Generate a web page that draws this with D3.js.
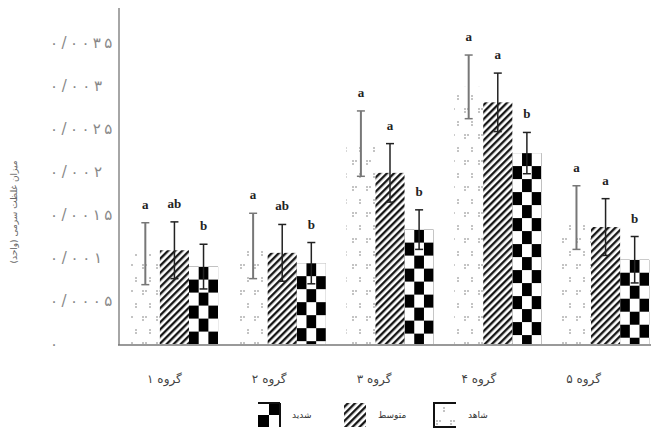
<!DOCTYPE html>
<html><head><meta charset="utf-8">
<script src="https://cdn.jsdelivr.net/npm/d3@7"></script>
<style>body{margin:0;background:#fff}svg{display:block}</style>
</head><body>
<svg id="c" width="651" height="431"></svg>
<script>
const groups = ["گروه ۱","گروه ۲","گروه ۳","گروه ۴","گروه ۵"];
const series = ["شاهد","متوسط","شدید"];
const means = [
  [0.00105, 0.00114, 0.00233, 0.00299, 0.00147],
  [0.00109, 0.00106, 0.00199, 0.00281, 0.00136],
  [0.00090, 0.00094, 0.00133, 0.00222, 0.00098]
];
const errs = [
  [0.00036, 0.00038, 0.00038, 0.00037, 0.00037],
  [0.00033, 0.00033, 0.00034, 0.00034, 0.00033],
  [0.00026, 0.00024, 0.00023, 0.00024, 0.00027]
];
const letters = [
  ["a","a","a","a","a"],
  ["ab","ab","a","a","a"],
  ["b","b","b","b","b"]
];
const yTicks = [0,0.0005,0.001,0.0015,0.002,0.0025,0.003,0.0035];
const yTickLabels = ["۰","۰/۰۰۰۵","۰/۰۰۱","۰/۰۰۱۵","۰/۰۰۲","۰/۰۰۲۵","۰/۰۰۳","۰/۰۰۳۵"];
const yTitle = "میزان غلظت سرمی (واحد)";

const svg = d3.select("#c");
const defs = svg.append("defs");
// dotted pattern
const pd = defs.append("pattern").attr("id","pDot").attr("patternUnits","userSpaceOnUse").attr("width",14).attr("height",26);
[[3,5],[6,5],[3,8],[10,18],[10,21]].forEach(([x,y])=>pd.append("circle").attr("cx",x).attr("cy",y).attr("r",0.8).attr("fill","#777"));
// hatch
const ph = defs.append("pattern").attr("id","pHatch").attr("patternUnits","userSpaceOnUse").attr("width",5).attr("height",5).attr("patternTransform","rotate(45)");
ph.append("rect").attr("width",5).attr("height",5).attr("fill","#fff");
ph.append("line").attr("x1",1.2).attr("y1",0).attr("x2",1.2).attr("y2",5).attr("stroke","#111").attr("stroke-width",2.3);

function checker(id, x, y, cw, ch){
  const p = defs.append("pattern").attr("id",id).attr("patternUnits","userSpaceOnUse")
    .attr("x",x).attr("y",y).attr("width",2*cw).attr("height",2*ch);
  p.append("rect").attr("width",2*cw).attr("height",2*ch).attr("fill","#fff");
  p.append("rect").attr("x",cw).attr("y",0).attr("width",cw).attr("height",ch).attr("fill","#000");
  p.append("rect").attr("x",0).attr("y",ch).attr("width",cw).attr("height",ch).attr("fill","#000");
  return "url(#"+id+")";
}

const y = d3.scaleLinear().domain([0,0.0035]).range([344,43]);
const x0 = d3.scaleBand().domain(groups).range([120,660]).paddingInner(0.19).paddingOuter(0.1);
const x1 = d3.scaleBand().domain(d3.range(3)).range([0,x0.bandwidth()]);

// axes lines
svg.append("line").attr("x1",119).attr("x2",119).attr("y1",8).attr("y2",345).attr("stroke","#888").attr("stroke-width",1.5);
svg.append("line").attr("x1",118).attr("x2",651).attr("y1",345).attr("y2",345).attr("stroke","#777").attr("stroke-width",1.5);

// y tick labels
svg.append("g").selectAll("text").data(yTicks).join("text")
  .attr("x",50).attr("y",d=>y(d)+5).attr("text-anchor","start")
  .attr("font-family","DejaVu Sans").attr("font-size",15).attr("fill","#888")
  .attr("direction","ltr")
  .each(function(d,i){
    const t = yTickLabels[i];
    if(t.length>1) d3.select(this).attr("textLength",t.length*10.4).attr("lengthAdjust","spacing");
  })
  .text((d,i)=>yTickLabels[i]);

svg.append("text").attr("transform","translate(17,212) rotate(-90)").attr("text-anchor","middle")
  .attr("font-family","DejaVu Sans").attr("font-size",9).attr("fill","#666").text(yTitle);

// bars
const g = svg.append("g");
groups.forEach((gr,gi)=>{
  series.forEach((s,si)=>{
    const bx = x0(gr)+x1(si), bw = x1.bandwidth();
    const v = means[si][gi], e = errs[si][gi];
    const fill = si===0 ? "url(#pDot)" : si===1 ? "url(#pHatch)" : checker("pc"+gi, bx, y(v), bw/3, 13);
    g.append("rect").attr("x",bx).attr("y",y(v)).attr("width",bw).attr("height",y(0)-y(v)).attr("fill",fill);
    const cx = bx+bw/2;
    const col = si===0 ? "#777" : "#222";
    const sw = si===0 ? 2 : 1.5;
    g.append("line").attr("x1",cx).attr("x2",cx).attr("y1",y(v+e)).attr("y2",y(v-e)).attr("stroke",col).attr("stroke-width",sw);
    [v+e,v-e].forEach(t=>g.append("line").attr("x1",cx-4).attr("x2",cx+4).attr("y1",y(t)).attr("y2",y(t)).attr("stroke",col).attr("stroke-width",1.5));
    g.append("text").attr("x",cx).attr("y",y(v+e)-14).attr("text-anchor","middle")
      .attr("font-family","Liberation Serif").attr("font-weight","bold").attr("font-size",13).attr("fill","#222")
      .text(letters[si][gi]);
  });
});

// x labels
svg.append("g").selectAll("text").data(groups).join("text")
  .attr("x",(d,i)=>x0(d)+x0.bandwidth()/2-10-3*i).attr("y",383).attr("text-anchor","middle")
  .attr("font-family","DejaVu Sans").attr("font-size",12).attr("fill","#444")
  .text(d=>d);

// legend
const legX = [434,344,258];
series.forEach((s,si)=>{
  const lx = legX[si], ly = 403, lw = 22, lh = 24;
  const fill = si===0 ? "url(#pDot)" : si===1 ? "url(#pHatch)" : checker("pcl", lx, ly, 11, 12);
  svg.append("rect").attr("x",lx).attr("y",ly).attr("width",lw).attr("height",lh).attr("fill",fill);
  if(si===0){
    svg.append("path").attr("d",`M${lx+lw},${ly}H${lx}V${ly+lh}H${lx+lw}`).attr("fill","none").attr("stroke","#111").attr("stroke-width",2);
  }
  if(si===2){
    svg.append("path").attr("d",`M${lx+lw},${ly}V${ly+lh}M${lx},${ly}H${lx+lw}`).attr("fill","none").attr("stroke","#111").attr("stroke-width",2);
  }
  svg.append("text").attr("x",lx+34).attr("y",ly+15).attr("text-anchor","start")
    .attr("font-family","DejaVu Sans").attr("font-size",9).attr("fill","#333").text(s);
});
</script>
</body></html>
